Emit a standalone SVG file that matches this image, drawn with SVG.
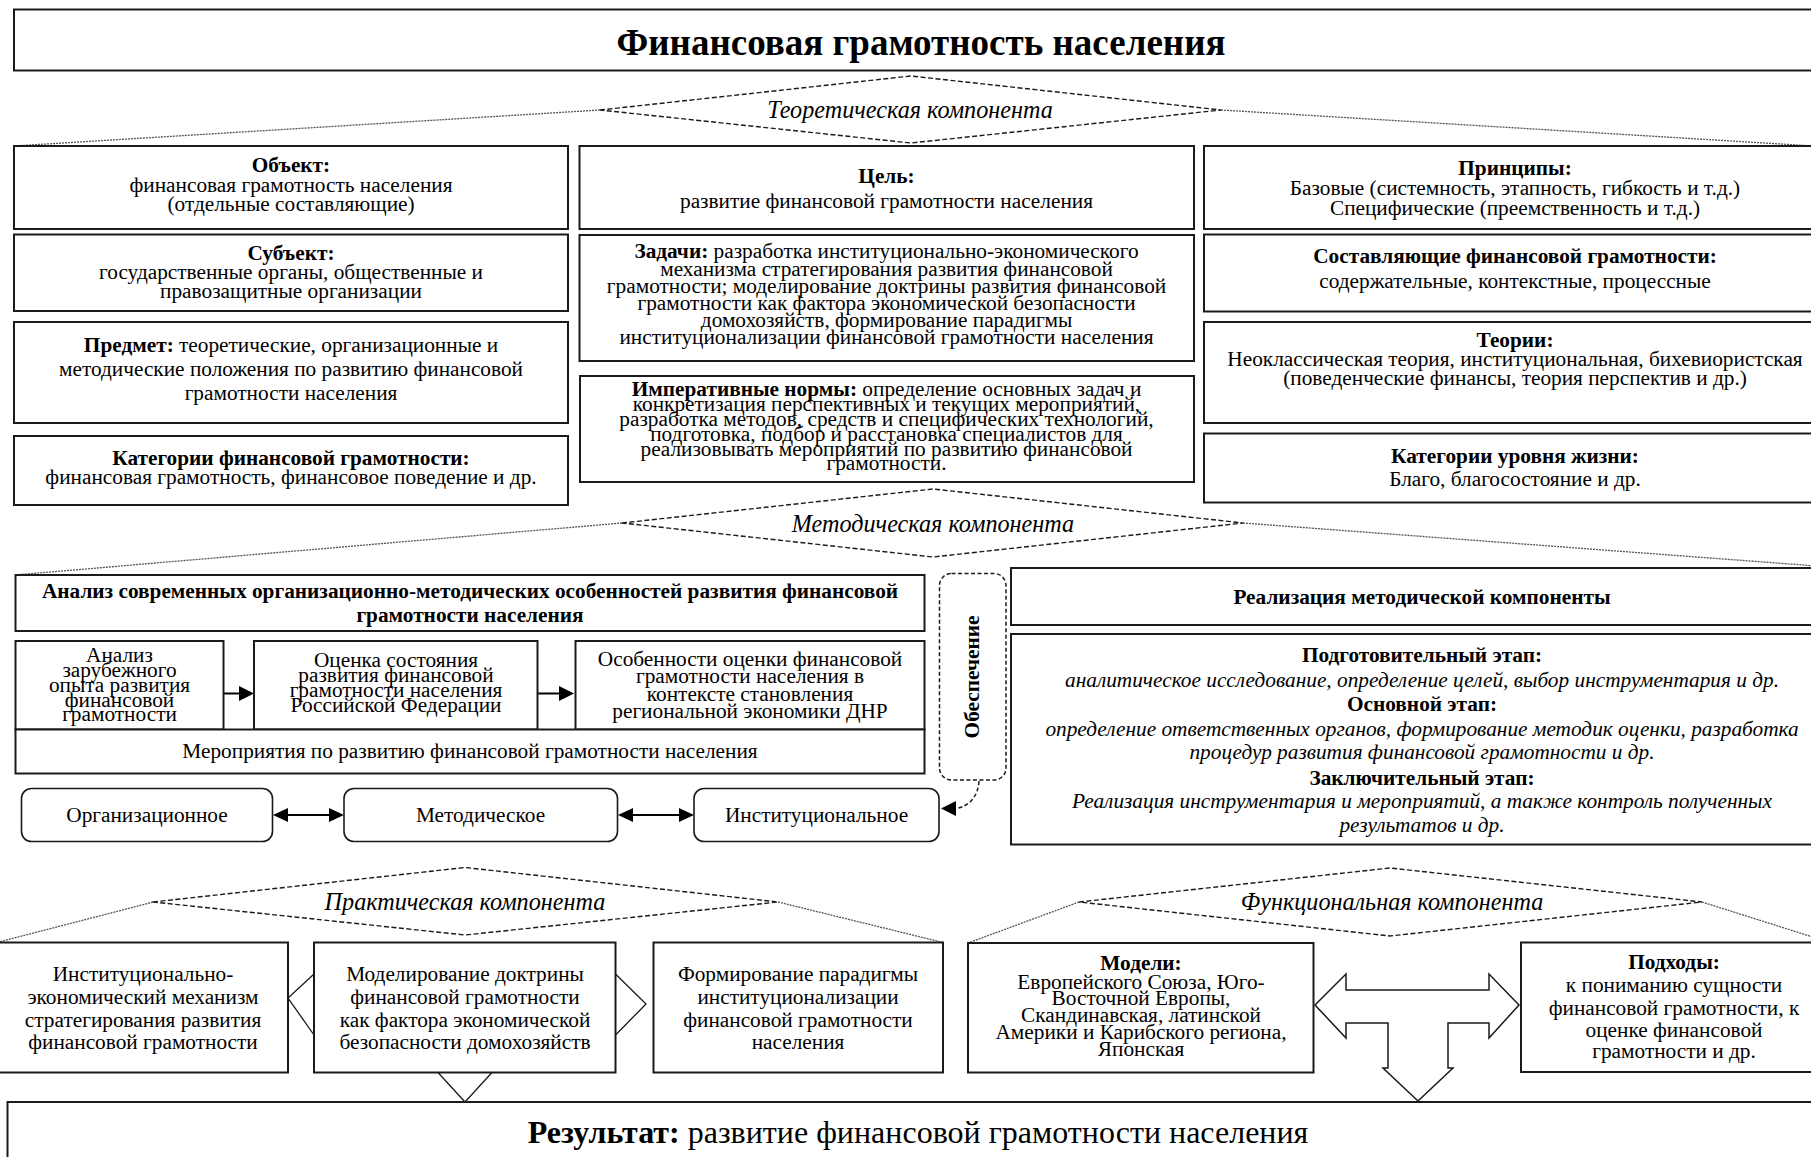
<svg xmlns="http://www.w3.org/2000/svg" width="1811" height="1157" viewBox="0 0 1811 1157">
<defs>
<style>
.box{fill:#fff;stroke:#1a1a1a;stroke-width:2}
.rbox{fill:#fff;stroke:#1a1a1a;stroke-width:1.6}
.dbox{fill:#fff;stroke:#1a1a1a;stroke-width:1.5;stroke-dasharray:4 2.5}
.dia{fill:#fff;stroke:#1a1a1a;stroke-width:1.4;stroke-dasharray:5 2.5}
.side{fill:none;stroke:#555;stroke-width:1.3;stroke-dasharray:2 1}
.ln{fill:none;stroke:#1a1a1a;stroke-width:1.3}
.ar{fill:none;stroke:#000;stroke-width:2}
.ah{fill:#000;stroke:none}
.big{fill:#fff;stroke:#1a1a1a;stroke-width:1.5}
text{font-family:'Liberation Serif','Times New Roman',serif;font-size:21.3px;fill:#000;text-anchor:middle}
.b{font-weight:bold}
.i{font-style:italic}
.c{font-style:italic;font-size:24.2px}
</style>
</defs>

<g id="title">
<rect class="box" x="14" y="9.5" width="1830" height="61"/>
<text class="b" x="921" y="55" style="font-size:37px">Финансовая грамотность населения</text>
</g>

<g id="connectors">
<line class="side" x1="600" y1="110" x2="14" y2="146"/>
<line class="side" x1="1221" y1="110" x2="1830" y2="147"/>
<line class="side" x1="622" y1="523" x2="15.5" y2="575"/>
<line class="side" x1="1243" y1="523" x2="1830" y2="567"/>
<line class="side" x1="153" y1="902" x2="-3" y2="942.5"/>
<line class="side" x1="778" y1="902" x2="943" y2="942.5"/>
<line class="side" x1="1079" y1="902" x2="968" y2="943"/>
<line class="side" x1="1702" y1="902" x2="1830" y2="942.5"/>
<line class="ar" x1="223.5" y1="693.5" x2="241" y2="693.5"/>
<polygon class="ah" points="254,693.5 239,686 239,701"/>
<line class="ar" x1="537.5" y1="693.5" x2="560" y2="693.5"/>
<polygon class="ah" points="574,693.5 559,686 559,701"/>
<line class="ar" x1="286" y1="815" x2="331" y2="815"/>
<polygon class="ah" points="273,815 288,808 288,822"/>
<polygon class="ah" points="344,815 329,808 329,822"/>
<line class="ar" x1="631" y1="815" x2="681" y2="815"/>
<polygon class="ah" points="618,815 633,808 633,822"/>
<polygon class="ah" points="694,815 679,808 679,822"/>
<path class="dbox" style="fill:none" d="M979,781 C978,796 970,806 956,808.5"/>
<polygon class="ah" points="941,808.5 956,801 956,816"/>
<polyline class="ln" points="314,974 288,998 314,1035"/>
<polyline class="ln" points="615.5,974 646,1004 615.5,1035"/>
<polyline class="ln" points="438,1072.5 465,1102 492,1072.5"/>
<polygon class="big" points="1315,1005 1346,974 1346,990 1489,990 1489,974 1519,1005 1489,1038 1489,1023 1448,1023 1448,1068 1453,1068 1418,1101 1383,1068 1388,1068 1388,1023 1346,1023 1346,1038"/>
</g>

<g id="theory-diamond">
<polygon class="dia" points="600,110 911,76 1221,110 911,143"/>
<text class="c" x="910" y="117.5">Теоретическая компонента</text>
</g>

<g id="object">
<rect class="box" x="14" y="146" width="554" height="83"/>
<text class="b" x="291" y="172">Объект:</text>
<text x="291" y="192">финансовая грамотность населения</text>
<text x="291" y="211">(отдельные составляющие)</text>
</g>
<g id="subject">
<rect class="box" x="14" y="234.5" width="554" height="76.5"/>
<text class="b" x="291" y="260">Субъект:</text>
<text x="291" y="278.5">государственные органы, общественные и</text>
<text x="291" y="297.5">правозащитные организации</text>
</g>
<g id="predmet">
<rect class="box" x="14" y="322" width="554" height="101"/>
<text x="291" y="352"><tspan class="b">Предмет:</tspan> теоретические, организационные и</text>
<text x="291" y="375.5">методические положения по развитию финансовой</text>
<text x="291" y="399.5">грамотности населения</text>
</g>
<g id="categories-fg">
<rect class="box" x="14" y="436" width="554" height="69"/>
<text class="b" x="291" y="465">Категории финансовой грамотности:</text>
<text x="291" y="484">финансовая грамотность, финансовое поведение и др.</text>
</g>

<g id="goal">
<rect class="box" x="579.5" y="146" width="614.5" height="83"/>
<text class="b" x="886.5" y="183">Цель:</text>
<text x="886.5" y="208">развитие финансовой грамотности населения</text>
</g>
<g id="tasks">
<rect class="box" x="579.5" y="235" width="614.5" height="126"/>
<text x="886.5" y="258"><tspan class="b">Задачи:</tspan> разработка институционально-экономического</text>
<text x="886.5" y="275.5">механизма стратегирования развития финансовой</text>
<text x="886.5" y="292.5">грамотности; моделирование доктрины развития финансовой</text>
<text x="886.5" y="309.5">грамотности как фактора экономической безопасности</text>
<text x="886.5" y="326.5">домохозяйств, формирование парадигмы</text>
<text x="886.5" y="344">институционализации финансовой грамотности населения</text>
</g>
<g id="norms">
<rect class="box" x="580" y="376" width="614" height="106"/>
<text x="886.5" y="396"><tspan class="b">Императивные нормы:</tspan> определение основных задач и</text>
<text x="886.5" y="410.5">конкретизация перспективных и текущих мероприятий,</text>
<text x="886.5" y="425.5">разработка методов, средств и специфических технологий,</text>
<text x="886.5" y="440.5">подготовка, подбор и расстановка специалистов для</text>
<text x="886.5" y="455.5">реализовывать мероприятий по развитию финансовой</text>
<text x="886.5" y="470">грамотности.</text>
</g>

<g id="principles">
<rect class="box" x="1204" y="146" width="626" height="83"/>
<text class="b" x="1515" y="175">Принципы:</text>
<text x="1515" y="195">Базовые (системность, этапность, гибкость и т.д.)</text>
<text x="1515" y="215">Специфические (преемственность и т.д.)</text>
</g>
<g id="components">
<rect class="box" x="1204" y="234.5" width="626" height="77"/>
<text class="b" x="1515" y="263">Составляющие финансовой грамотности:</text>
<text x="1515" y="288">содержательные, контекстные, процессные</text>
</g>
<g id="theories">
<rect class="box" x="1204" y="322" width="626" height="101"/>
<text class="b" x="1515" y="347">Теории:</text>
<text x="1515" y="366">Неоклассическая теория, институциональная, бихевиористская</text>
<text x="1515" y="385">(поведенческие финансы, теория перспектив и др.)</text>
</g>
<g id="categories-life">
<rect class="box" x="1204" y="433.5" width="626" height="69"/>
<text class="b" x="1515" y="463">Категории уровня жизни:</text>
<text x="1515" y="486">Благо, благосостояние и др.</text>
</g>

<g id="method-diamond">
<polygon class="dia" points="622,523 933,489 1243,523 933,557"/>
<text class="c" x="933" y="531.5">Методическая компонента</text>
</g>

<g id="analysis">
<rect class="box" x="15.5" y="575" width="909" height="56"/>
<text class="b" x="470" y="598">Анализ современных организационно-методических особенностей развития финансовой</text>
<text class="b" x="470" y="621.5">грамотности населения</text>
</g>
<g id="foreign">
<rect class="box" x="15.5" y="641" width="208" height="88.5"/>
<text x="119.5" y="661.5">Анализ</text>
<text x="119.5" y="676.5">зарубежного</text>
<text x="119.5" y="691.5">опыта развития</text>
<text x="119.5" y="706.5">финансовой</text>
<text x="119.5" y="721">грамотности</text>
</g>
<g id="assessment">
<rect class="box" x="254" y="641" width="283.5" height="88.5"/>
<text x="396" y="667">Оценка состояния</text>
<text x="396" y="682">развития финансовой</text>
<text x="396" y="697">грамотности населения</text>
<text x="396" y="712">Российской Федерации</text>
</g>
<g id="features">
<rect class="box" x="575.5" y="641" width="349" height="88.5"/>
<text x="750" y="665.5">Особенности оценки финансовой</text>
<text x="750" y="683">грамотности населения в</text>
<text x="750" y="700.5">контексте становления</text>
<text x="750" y="718">региональной экономики ДНР</text>
</g>
<g id="measures">
<rect class="box" x="15.5" y="729.5" width="909" height="44"/>
<text x="470" y="758">Мероприятия по развитию финансовой грамотности населения</text>
</g>
<g id="organizational">
<rect class="rbox" x="21.5" y="788.5" width="251" height="53" rx="10"/>
<text x="147" y="821.5">Организационное</text>
</g>
<g id="methodical">
<rect class="rbox" x="344" y="788.5" width="273.5" height="53" rx="10"/>
<text x="480.5" y="821.5">Методическое</text>
</g>
<g id="institutional">
<rect class="rbox" x="694" y="788.5" width="245" height="53" rx="10"/>
<text x="816.5" y="821.5">Институциональное</text>
</g>
<g id="support">
<rect class="dbox" x="939.5" y="573.5" width="66.5" height="206.5" rx="12"/>
<text class="b" transform="translate(979,677) rotate(-90)">Обеспечение</text>
</g>

<g id="realization-title">
<rect class="box" x="1011" y="568" width="819" height="57"/>
<text class="b" x="1422" y="603.5">Реализация методической компоненты</text>
</g>
<g id="realization-stages">
<rect class="box" x="1011" y="634" width="819" height="210.5"/>
<text class="b" x="1422" y="662">Подготовительный этап:</text>
<text class="i" x="1422" y="686.5">аналитическое исследование, определение целей, выбор инструментария и др.</text>
<text class="b" x="1422" y="711">Основной этап:</text>
<text class="i" x="1422" y="735.5">определение ответственных органов, формирование методик оценки, разработка</text>
<text class="i" x="1422" y="759">процедур развития финансовой грамотности и др.</text>
<text class="b" x="1422" y="785">Заключительный этап:</text>
<text class="i" x="1422" y="808">Реализация инструментария и мероприятий, а также контроль полученных</text>
<text class="i" x="1422" y="831.5">результатов и др.</text>
</g>

<g id="practice-diamond">
<polygon class="dia" points="153,902 465,867.5 778,902 465,935"/>
<text class="c" x="465" y="910">Практическая компонента</text>
</g>
<g id="function-diamond">
<polygon class="dia" points="1079,902 1390,868 1702,902 1390,936"/>
<text class="c" x="1392" y="910">Функциональная компонента</text>
</g>

<g id="mechanism">
<rect class="box" x="-3" y="942.5" width="291" height="130"/>
<text x="143" y="981">Институционально-</text>
<text x="143" y="1003.5">экономический механизм</text>
<text x="143" y="1026.5">стратегирования развития</text>
<text x="143" y="1048.5">финансовой грамотности</text>
</g>
<g id="doctrine">
<rect class="box" x="314" y="942.5" width="301.5" height="130"/>
<text x="465" y="981">Моделирование доктрины</text>
<text x="465" y="1003.5">финансовой грамотности</text>
<text x="465" y="1026.5">как фактора экономической</text>
<text x="465" y="1048.5">безопасности домохозяйств</text>
</g>
<g id="paradigm">
<rect class="box" x="653.5" y="942.5" width="289.5" height="130"/>
<text x="798" y="981">Формирование парадигмы</text>
<text x="798" y="1003.5">институционализации</text>
<text x="798" y="1026.5">финансовой грамотности</text>
<text x="798" y="1048.5">населения</text>
</g>
<g id="models">
<rect class="box" x="968" y="943" width="345.5" height="129.5"/>
<text class="b" x="1141" y="970">Модели:</text>
<text x="1141" y="988.5">Европейского Союза, Юго-</text>
<text x="1141" y="1005">Восточной Европы,</text>
<text x="1141" y="1022">Скандинавская, латинской</text>
<text x="1141" y="1039">Америки и Карибского региона,</text>
<text x="1141" y="1056">Японская</text>
</g>
<g id="approaches">
<rect class="box" x="1521" y="942.5" width="309" height="129.5"/>
<text class="b" x="1674" y="968.5">Подходы:</text>
<text x="1674" y="991.5">к пониманию сущности</text>
<text x="1674" y="1015">финансовой грамотности, к</text>
<text x="1674" y="1036.5">оценке финансовой</text>
<text x="1674" y="1058">грамотности и др.</text>
</g>

<g id="result">
<rect class="box" x="7.5" y="1102" width="1830" height="70"/>
<text x="918" y="1143" style="font-size:32px"><tspan class="b">Результат:</tspan> развитие финансовой грамотности населения</text>
</g>
</svg>
